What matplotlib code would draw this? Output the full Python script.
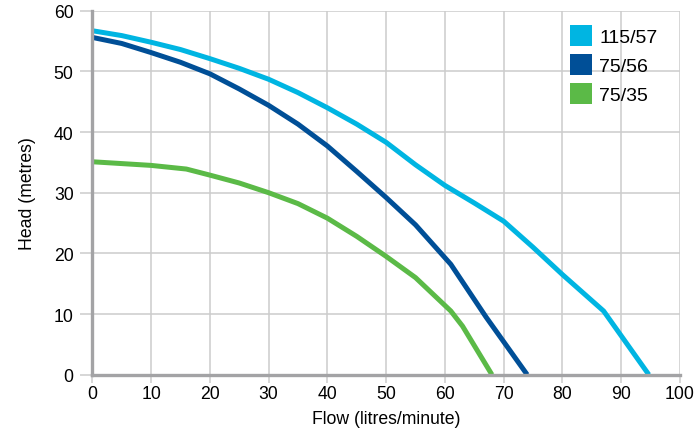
import matplotlib
matplotlib.use("Agg")
import matplotlib.pyplot as plt
from matplotlib.patches import Patch

plt.rcParams['font.family'] = ['Liberation Sans', 'DejaVu Sans']

series_names = ["115/57", "75/56", "75/35"]
colors = ["#00b5e2", "#004f97", "#5bba47"]

flow_115_57 = [0, 5, 10, 15, 20, 25, 30, 35, 40, 45, 50, 55, 60, 65, 70, 75, 80, 87, 94.7]
head_115_57 = [56.7, 55.9, 54.8, 53.6, 52.1, 50.5, 48.7, 46.5, 44.0, 41.3, 38.3, 34.6, 31.2, 28.3, 25.3, 21.0, 16.5, 10.5, 0]

flow_75_56 = [0, 5, 10, 15, 20, 25, 30, 35, 40, 45, 50, 55, 61, 67, 74]
head_75_56 = [55.6, 54.6, 53.1, 51.5, 49.6, 47.1, 44.4, 41.3, 37.7, 33.5, 29.2, 24.7, 18.2, 9.5, 0]

flow_75_35 = [0, 10, 16, 20, 25, 30, 35, 40, 45, 50, 55, 61, 63, 65, 68]
head_75_35 = [35.1, 34.5, 33.9, 32.9, 31.6, 30.0, 28.2, 25.8, 22.8, 19.5, 16.0, 10.5, 8.0, 4.8, 0]

x_ticks = [0, 10, 20, 30, 40, 50, 60, 70, 80, 90, 100]
y_ticks = [0, 10, 20, 30, 40, 50, 60]

fig = plt.figure(figsize=(6.96, 4.35), dpi=100)
ax = fig.add_axes([92.3 / 696, 1 - 375.7 / 435, (680 - 92.3) / 696, (375.7 - 11.7) / 435])

data = [(flow_115_57, head_115_57), (flow_75_56, head_75_56), (flow_75_35, head_75_35)]
for (fx, hy), c in zip(data, colors):
    ax.plot(fx, hy, color=c, lw=3.6, solid_capstyle='butt', solid_joinstyle='round', zorder=3, clip_on=False)

ax.set_xlim(0, 100)
ax.set_ylim(0, 60)
ax.set_xticks(x_ticks)
ax.set_yticks(y_ticks)
ax.grid(True, color="#cccccc", lw=1.1)
ax.set_axisbelow(True)
for s in ["top", "right"]:
    ax.spines[s].set_visible(False)
for s in ["left", "bottom"]:
    ax.spines[s].set_color("#a3a3a5")
    ax.spines[s].set_linewidth(2.4)
    ax.spines[s].set_zorder(4)

ax.tick_params(axis='y', length=8.5, width=1.1, color="#cccccc", pad=5, labelsize=12.7)
ax.tick_params(axis='x', length=5.5, width=1.1, color="#cccccc", pad=2, labelsize=12.7)

ax.set_xlabel("Flow (litres/minute)", fontsize=12.7, labelpad=6)
ax.set_ylabel("Head (metres)", fontsize=12.7, labelpad=13)

handles = [Patch(facecolor=c, edgecolor='none') for c in colors]
leg = fig.legend(handles, series_names, loc='upper left', bbox_to_anchor=(570 / 696, 1 - 26 / 435),
                 frameon=False, fontsize=14, handlelength=1.15, handleheight=1.3,
                 handletextpad=0.36, labelspacing=0.4, borderaxespad=0, borderpad=0)

fig.savefig("out.png", dpi=100)
